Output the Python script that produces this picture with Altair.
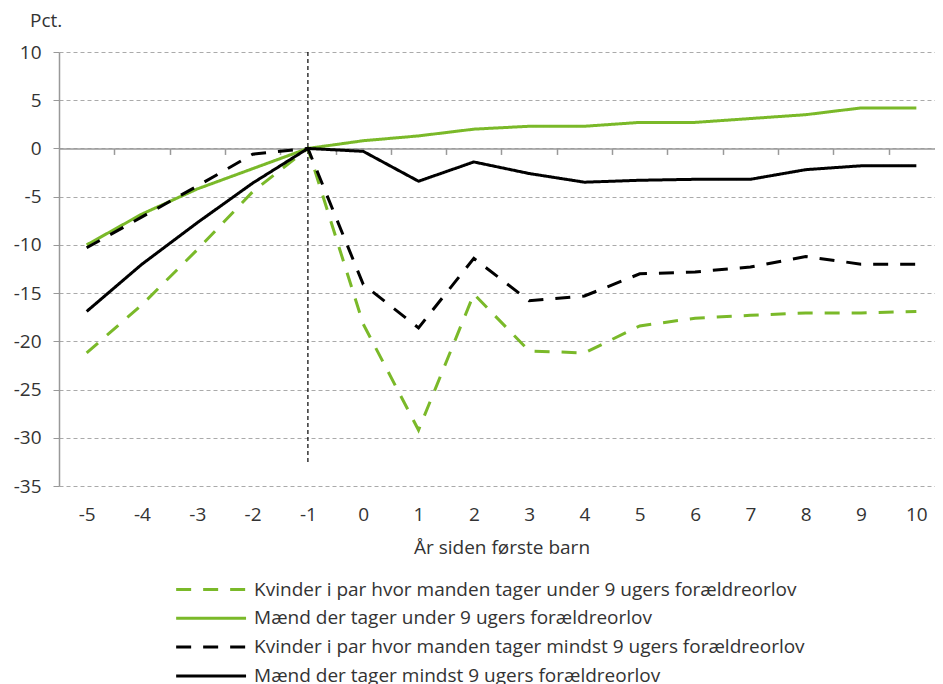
import altair as alt
import pandas as pd

# ---------------- data ----------------
years = [-5, -4, -3, -2, -1, 0, 1, 2, 3, 4, 5, 6, 7, 8, 9, 10]
kvinder_under = [-21.2, -16.2, -10.5, -4.5, 0.0, -18.2, -29.2, -15.1, -21.0, -21.2, -18.4, -17.6, -17.3, -17.05, -17.05, -16.9]
maend_under = [-10.0, -6.8, -4.2, -2.1, 0.0, 0.8, 1.3, 2.0, 2.3, 2.3, 2.7, 2.7, 3.1, 3.5, 4.2, 4.2]
kvinder_mindst = [-10.3, -7.1, -3.9, -0.6, 0.0, -14.1, -18.6, -11.4, -15.8, -15.3, -13.0, -12.8, -12.3, -11.2, -12.0, -12.0]
maend_mindst = [-16.9, -12.0, -7.7, -3.6, 0.0, -0.3, -3.4, -1.4, -2.6, -3.5, -3.3, -3.2, -3.2, -2.2, -1.8, -1.8]

series_names = [
    "Kvinder i par hvor manden tager under 9 ugers forældreorlov",
    "Mænd der tager under 9 ugers forældreorlov",
    "Kvinder i par hvor manden tager mindst 9 ugers forældreorlov",
    "Mænd der tager mindst 9 ugers forældreorlov",
]
series_values = [kvinder_under, maend_under, kvinder_mindst, maend_mindst]

y_ticks = [-35, -30, -25, -20, -15, -10, -5, 0, 5, 10]
x_boundaries = [-4.5, -3.5, -2.5, -1.5, -0.5, 0.5, 1.5, 2.5, 3.5, 4.5, 5.5, 6.5, 7.5, 8.5, 9.5]

marker_year = [-1]
marker_top = [10]
marker_bottom = [-32.5]

# ---------------- styling ----------------
GREEN = "#7AB929"
BLACK = "#000000"
series_colors = [GREEN, GREEN, BLACK, BLACK]
series_dash = [[15, 12], [1, 0], [15, 12], [1, 0]]

STEP = 885 / 16          # pixels per year
W, H = 876, 434
Y_MIN, Y_MAX = -35, 10
X_DOMAIN = [-5.5, -5.5 + W / STEP]   # plot is cropped at the right edge, as in the original
ZERO_OFFSET = -H * (0 - Y_MIN) / (Y_MAX - Y_MIN)
FONT = "Open Sans"
FS = 19
TXT = "#333333"

rows = []
for name, vals in zip(series_names, series_values):
    for yr, v in zip(years, vals):
        rows.append({"year": yr, "value": v, "series": name})
df = pd.DataFrame(rows)

marker_df = pd.DataFrame({"year": marker_year, "value": marker_top, "value2": marker_bottom})

y_axis = alt.Axis(
    values=y_ticks, labelExpr="'' + datum.value",
    title="Pct.", titleAngle=0, titleAlign="left", titleBaseline="alphabetic",
    titleX=-29.5, titleY=-26,
    grid=True, gridDash=[4, 3], gridColor="#AAAAAA", gridWidth=1,
    domainColor="#999999", domainWidth=1.5, tickColor="#999999", tickSize=6,
    labelPadding=12,
)
y_enc = alt.Y("value:Q", scale=alt.Scale(domain=[Y_MIN, Y_MAX], nice=False, zero=False), axis=y_axis)

legend = alt.Legend(
    title=None, orient="none", legendX=138.6, legendY=524, direction="vertical",
    symbolType="M-3,0H3", symbolSize=23.3 ** 2, symbolStrokeWidth=3,
    labelFontSize=FS, labelColor=TXT, labelFont=FONT, labelLimit=0,
    rowPadding=4.8, labelOffset=29.5, padding=0,
)

lines = alt.Chart(df).mark_line(strokeWidth=3).encode(
    x=alt.X(
        "year:Q",
        scale=alt.Scale(domain=X_DOMAIN, nice=False, zero=False),
        axis=alt.Axis(
            orient="bottom", values=years, labelExpr="'' + datum.value", ticks=False, tickSize=0,
            domain=False, grid=False, labelPadding=19, labelFlush=False,
            title="År siden første barn", titleY=67, titleBaseline="alphabetic",
            titleAnchor="start", titleAlign="center", titleX=885 / 2,
        ),
    ),
    y=y_enc,
    color=alt.Color("series:N", scale=alt.Scale(domain=series_names, range=series_colors), legend=legend),
    strokeDash=alt.StrokeDash("series:N", scale=alt.Scale(domain=series_names, range=series_dash), legend=legend),
)

vline = alt.Chart(marker_df).mark_rule(color=BLACK, strokeWidth=1.2, strokeDash=[4, 3]).encode(
    x=alt.X(
        "year:Q",
        scale=alt.Scale(domain=X_DOMAIN, nice=False, zero=False),
        axis=alt.Axis(
            orient="bottom", offset=ZERO_OFFSET, values=x_boundaries, labels=False,
            ticks=True, tickSize=6, tickColor="#999999", tickWidth=1.5,
            domain=True, domainColor="#999999", domainWidth=1.5, grid=False, title=None,
        ),
    ),
    y=y_enc,
    y2="value2:Q",
)

chart = alt.layer(vline, lines).resolve_scale(x="independent").properties(
    width=W, height=H, padding={"top": 3, "left": 5, "right": 0, "bottom": 5}
).configure_view(stroke=None).configure_axis(
    labelFont=FONT, titleFont=FONT, labelFontSize=FS, titleFontSize=FS,
    labelColor=TXT, titleColor=TXT, titleFontWeight="normal",
)

chart.save("out.html", embed_options={"renderer": "svg", "actions": False})
